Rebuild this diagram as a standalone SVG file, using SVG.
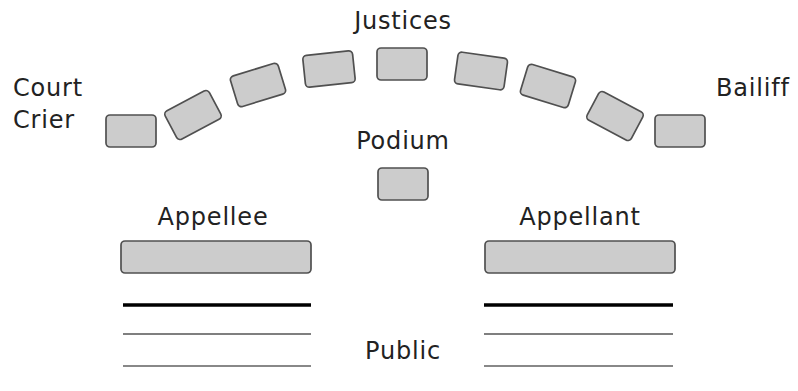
<svg xmlns="http://www.w3.org/2000/svg" width="798" height="391" viewBox="0 0 798 391">
<style>
.seat{fill:#cccccc;stroke:#505050;stroke-width:1.7}
.lbl{font-family:"DejaVu Sans","Liberation Sans",sans-serif;font-size:24px;letter-spacing:0.8px;fill:#222222}
.mid{text-anchor:middle}
</style>
<rect width="798" height="391" fill="#ffffff"/>
<g id="justices">
<text class="lbl mid" x="403" y="29">Justices</text>
<rect class="seat" x="-25" y="-16" width="50" height="32" rx="4" transform="translate(193,115) rotate(-28)"/>
<rect class="seat" x="-25" y="-16" width="50" height="32" rx="4" transform="translate(258,85) rotate(-17)"/>
<rect class="seat" x="-25" y="-16" width="50" height="32" rx="4" transform="translate(329,69) rotate(-6)"/>
<rect class="seat" x="-25" y="-16" width="50" height="32" rx="4" transform="translate(402,64)"/>
<rect class="seat" x="-25" y="-16" width="50" height="32" rx="4" transform="translate(481,71) rotate(8)"/>
<rect class="seat" x="-25" y="-16" width="50" height="32" rx="4" transform="translate(548,86) rotate(17)"/>
<rect class="seat" x="-25" y="-16" width="50" height="32" rx="4" transform="translate(615,116) rotate(28)"/>
</g>
<g id="court-crier">
<text class="lbl" x="13" y="96">Court</text>
<text class="lbl" x="13" y="128">Crier</text>
<rect class="seat" x="106" y="115" width="50" height="32" rx="4"/>
</g>
<g id="bailiff">
<text class="lbl" x="716" y="96">Bailiff</text>
<rect class="seat" x="655" y="115" width="50" height="32" rx="4"/>
</g>
<g id="podium">
<text class="lbl mid" x="403" y="149">Podium</text>
<rect class="seat" x="378" y="168" width="50" height="32" rx="4"/>
</g>
<g id="appellee">
<text class="lbl mid" x="213" y="225">Appellee</text>
<rect class="seat" x="121" y="241" width="190" height="32" rx="4"/>
</g>
<g id="appellant">
<text class="lbl mid" x="580" y="225">Appellant</text>
<rect class="seat" x="485" y="241" width="190" height="32" rx="4"/>
</g>
<g id="public">
<text class="lbl mid" x="403" y="359">Public</text>
<line x1="123" y1="305" x2="311" y2="305" stroke="#000000" stroke-width="3.5"/>
<line x1="484" y1="305" x2="673" y2="305" stroke="#000000" stroke-width="3.5"/>
<line x1="123" y1="334" x2="311" y2="334" stroke="#555555" stroke-width="1.3"/>
<line x1="484" y1="334" x2="673" y2="334" stroke="#555555" stroke-width="1.3"/>
<line x1="123" y1="366" x2="311" y2="366" stroke="#888888" stroke-width="1.8"/>
<line x1="484" y1="366" x2="673" y2="366" stroke="#888888" stroke-width="1.8"/>
</g>
</svg>
